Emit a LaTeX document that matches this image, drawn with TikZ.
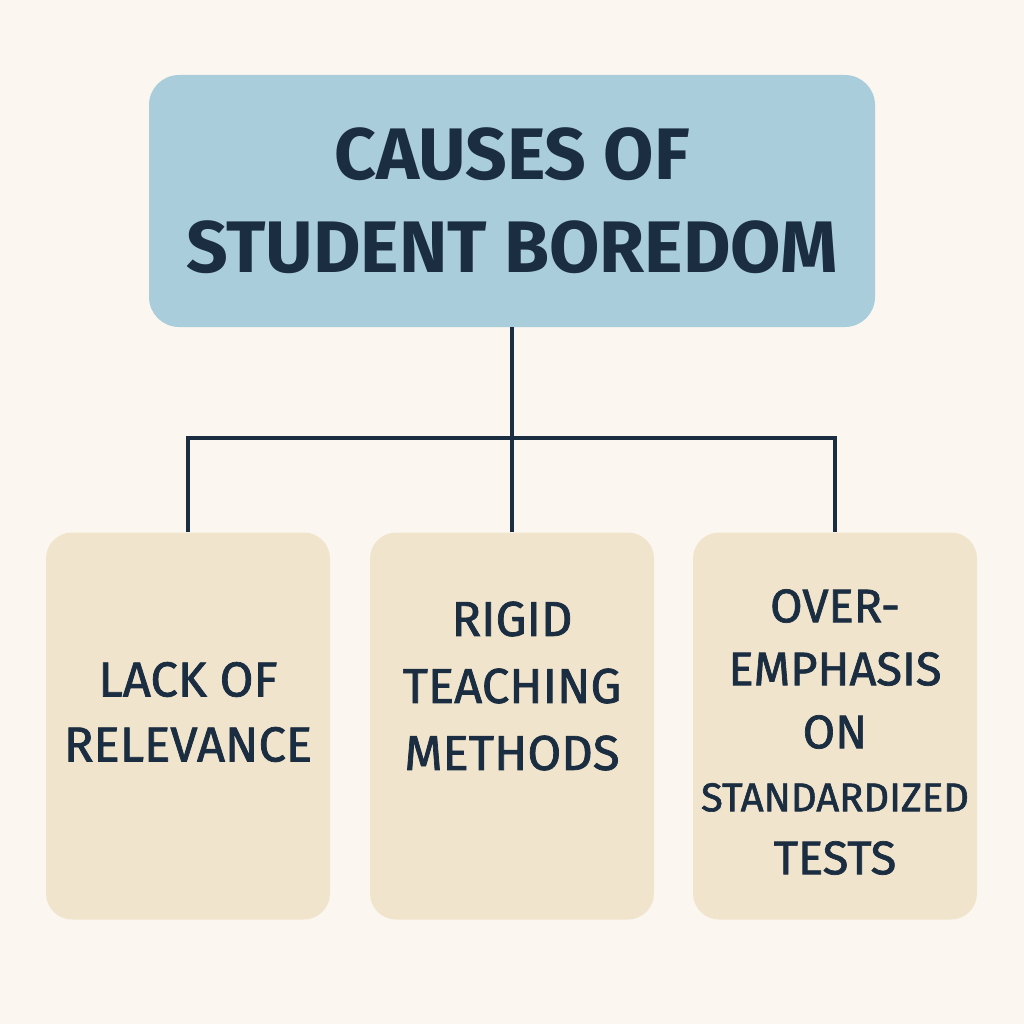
\documentclass[tikz,border=0pt]{standalone}
\usepackage{fontspec}
\setmainfont{Fira Sans}
\newfontfamily\medfont{Fira Sans}[FakeBold=1.5]
\usepackage{tikz}
\usetikzlibrary{positioning}
\definecolor{paper}{HTML}{FBF7F0}
\definecolor{titleblue}{HTML}{AACDDB}
\definecolor{causebeige}{HTML}{F0E4CD}
\definecolor{ink}{HTML}{1B2D40}

\begin{document}
\begin{tikzpicture}[x=1pt,y=-1pt]
\tikzset{titlebox/.style={fill=titleblue,rounded corners=30pt,minimum width=726pt,minimum height=252pt,inner sep=0pt}}
\tikzset{causebox/.style={fill=causebeige,rounded corners=26pt,minimum width=284pt,minimum height=387pt,inner sep=0pt}}
\tikzset{causetext/.style={text=ink,align=center,font=\medfont\fontsize{49}{65}\selectfont}}
\tikzset{link/.style={draw=ink,line width=4pt}}
% page
\fill[paper] (0,0) rectangle (1024,1024);
\useasboundingbox (0,0) rectangle (1024,1024);
% heading
\node[titlebox,text=ink,align=center,font=\fontsize{73}{93}\bfseries\selectfont] (top) at (512,201) {CAUSES OF\\STUDENT BOREDOM};
% causes
\node[causebox] (lack) at (188,726) {};
\node[causebox] (rigid) at (512,726) {};
\node[causebox] (over) at (835,726) {};
\node[causetext] (lacktext) at (188,712) {LACK OF\\RELEVANCE};
\node[causetext,font=\medfont\fontsize{49}{67}\selectfont] (rigidtext) at (512,686) {RIGID\\TEACHING\\METHODS};
\node[causetext,font=\medfont\fontsize{47}{63}\selectfont] (overtext) at (835,732) {OVER-\\EMPHASIS\\ON\\{\fontsize{40}{60}\selectfont STANDARDIZED}\\TESTS};
% tree lines
\coordinate (bus) at (512,438);
\draw[link] (top.south) -- (bus);
\draw[link] (lack.north) |- (bus) -| (over.north);
\draw[link] (bus) -- (rigid.north);
\end{tikzpicture}
\end{document}
